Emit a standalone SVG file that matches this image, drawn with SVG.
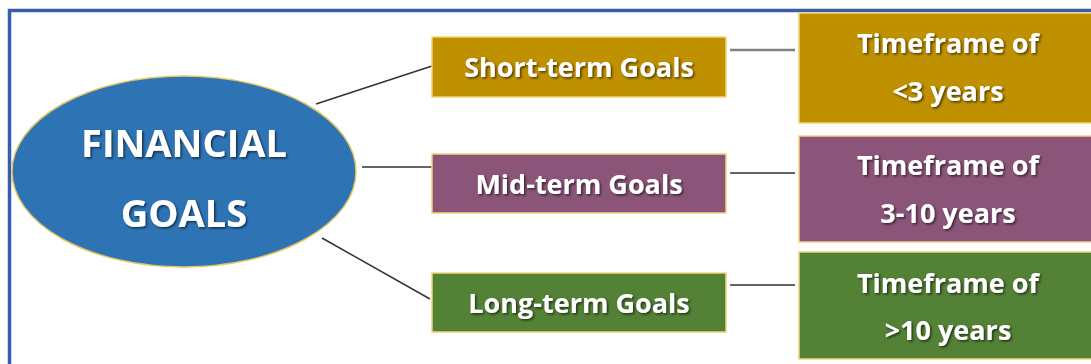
<svg xmlns="http://www.w3.org/2000/svg" width="1091" height="364" viewBox="0 0 1091 364">
<defs>
<filter id="ts" x="-10%" y="-20%" width="130%" height="160%">
<feDropShadow dx="1.5" dy="1.5" stdDeviation="1" flood-color="#000" flood-opacity="0.6"/>
</filter>
</defs>
<style>
.t{font-family:"Open Sans",Lato,sans-serif;font-weight:bold;fill:#fff;text-anchor:middle;filter:url(#ts)}
.box{stroke:#f2d37a;stroke-width:1.5}
.c{stroke:#333;stroke-width:1.5;fill:none}
</style>
<rect x="0" y="0" width="1091" height="364" fill="#fff"/>
<path d="M9.5 375 V10.5 H1100" fill="none" stroke="#3a5ea6" stroke-width="3.5"/>
<g id="connectors">
<line class="c" x1="316" y1="104" x2="432" y2="66"/>
<line class="c" x1="362" y1="167" x2="432" y2="167"/>
<line class="c" x1="322" y1="238" x2="430" y2="299"/>
<line class="c" x1="730" y1="50" x2="795" y2="50" style="stroke:#808080;stroke-width:2.5"/>
<line class="c" x1="730" y1="173" x2="795" y2="173"/>
<line class="c" x1="730" y1="285" x2="795" y2="285"/>
</g>
<g id="financial-goals">
<ellipse cx="184" cy="171.5" rx="172" ry="95.5" fill="#2e74b5" stroke="#e3c766" stroke-width="1.5"/>
<text class="t" x="184" y="157" font-size="38">FINANCIAL</text>
<text class="t" x="184" y="227" font-size="38">GOALS</text>
</g>
<g id="short-term">
<rect class="box" x="432" y="37" width="294" height="60" fill="#bf9000"/>
<text class="t" x="579" y="77" font-size="27">Short-term Goals</text>
</g>
<g id="mid-term">
<rect class="box" x="432" y="154" width="294" height="59" fill="#8b5579"/>
<text class="t" x="579" y="194" font-size="27">Mid-term Goals</text>
</g>
<g id="long-term">
<rect class="box" x="432" y="273" width="294" height="59" fill="#538135"/>
<text class="t" x="579" y="313" font-size="27">Long-term Goals</text>
</g>
<g id="short-timeframe">
<rect class="box" x="799" y="13" width="300" height="110" fill="#bf9000"/>
<text class="t" x="948" y="53" font-size="27">Timeframe of</text>
<text class="t" x="948" y="101" font-size="27">&lt;3 years</text>
</g>
<g id="mid-timeframe">
<rect class="box" x="799" y="136" width="300" height="106" fill="#8b5579"/>
<text class="t" x="948" y="175" font-size="27">Timeframe of</text>
<text class="t" x="948" y="223" font-size="27">3-10 years</text>
</g>
<g id="long-timeframe">
<rect class="box" x="799" y="252" width="300" height="107" fill="#538135"/>
<text class="t" x="948" y="293" font-size="27">Timeframe of</text>
<text class="t" x="948" y="340" font-size="27">&gt;10 years</text>
</g>
</svg>
